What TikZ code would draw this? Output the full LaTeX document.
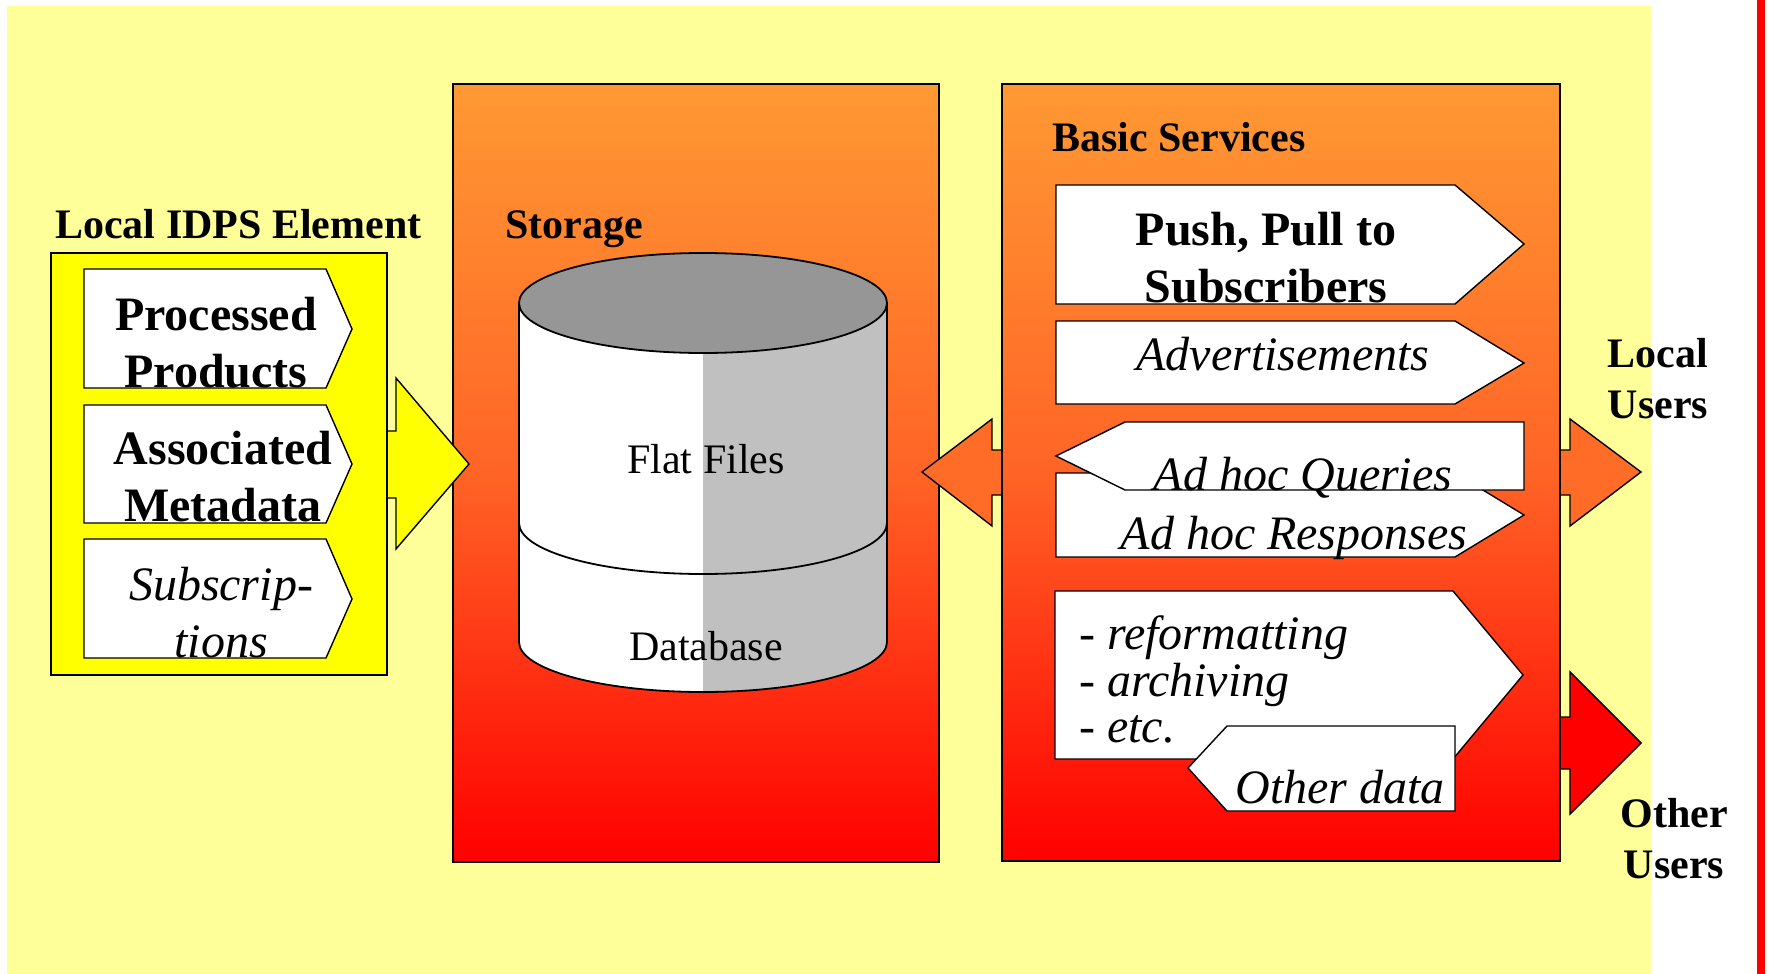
\documentclass[tikz,border=0pt]{standalone}
\usepackage{fontspec}
\setmainfont{Liberation Serif}
\definecolor{bgyel}{RGB}{255,255,153}
\definecolor{yel}{RGB}{255,255,0}
\definecolor{grtop}{RGB}{255,153,51}
\definecolor{grmid}{RGB}{255,100,38}
\definecolor{grbot}{RGB}{255,0,0}
\definecolor{arrorange}{RGB}{255,108,40}
\definecolor{cylgray}{RGB}{192,192,192}
\definecolor{cyltop}{RGB}{150,150,150}
\begin{document}
\begin{tikzpicture}[x=1pt,y=-1pt,
  outl/.style={draw=black, line width=1.4pt, line join=miter},
  panel/.style={outl, top color=grtop, bottom color=grbot, middle color=grmid},
  pent/.style={outl, fill=white},
  cyl/.style={draw=black, line width=1.8pt},
  hdr/.style={inner sep=0pt, font=\fontsize{42}{51}\selectfont\bfseries},
  bigb/.style={inner sep=0pt, font=\fontsize{48}{57}\selectfont\bfseries},
  bigi/.style={inner sep=0pt, font=\fontsize{48}{57}\selectfont\itshape},
  reg/.style={inner sep=0pt, font=\fontsize{42}{51}\selectfont}]
\useasboundingbox (0,0) rectangle (1769,974);
\fill[white] (0,0) rectangle (1769,974);
% background
\fill[bgyel] (7,6) rectangle (1651,974);
\fill[red] (1757,0) rectangle (1765,974);

% storage panel
\path[panel] (453,84) rectangle (939,862);
\node[hdr, anchor=base west] (storlbl) at (505,238) {Storage};

% cylinder
\begin{scope}
\clip (519,303) -- (519,642) arc[start angle=180,end angle=360,x radius=184pt,y radius=50pt] -- (887,303) -- cycle;
\fill[white] (510,250) rectangle (703,700);
\fill[cylgray] (703,250) rectangle (895,700);
\end{scope}
\draw[cyl] (519,303) -- (519,642) arc[start angle=180,end angle=360,x radius=184pt,y radius=50pt] -- (887,303);
\draw[cyl] (519,523) arc[start angle=180,end angle=360,x radius=184pt,y radius=51pt];
\draw[cyl, fill=cyltop] (703,303) ellipse [x radius=184pt, y radius=50pt];
\node[reg, anchor=base] (flat) at (706,473) {Flat Files};
\node[reg, anchor=base] (db) at (706,660) {Database};

% yellow block arrow and local element box
\path[outl, fill=yel] (370,431) -- (396,431) -- (396,378) -- (469,464) -- (396,549) -- (396,498) -- (370,498) -- cycle;
\path[outl, fill=yel] (51,253) rectangle (387,675);
\node[hdr, anchor=base west] (lidps) at (55,238) {Local IDPS Element};

\path[pent] (84,269) -- (326,269) -- (352,329) -- (326,388) -- (84,388) -- cycle;
\path[pent] (84,405) -- (326,405) -- (352,464) -- (326,523) -- (84,523) -- cycle;
\path[pent] (84,539) -- (326,539) -- (352,599) -- (326,658) -- (84,658) -- cycle;
\node[bigb, anchor=base] (proc) at (216,330) {\begin{tabular}[t]{@{}c@{}}Processed\\Products\end{tabular}};
\node[bigb, anchor=base] (assoc) at (223,464) {\begin{tabular}[t]{@{}c@{}}Associated\\Metadata\end{tabular}};
\node[bigi, anchor=base] (subs) at (221,600) {\begin{tabular}[t]{@{}c@{}}Subscrip-\\tions\end{tabular}};

% double arrow storage <-> local users
\path[outl, fill=arrorange] (922,472) -- (992,419) -- (992,450) -- (1570,450) -- (1570,419) -- (1641,472) -- (1570,526) -- (1570,495) -- (992,495) -- (992,526) -- cycle;
% other users arrow
\path[outl, fill=red] (1540,717) -- (1570,717) -- (1570,672) -- (1641,743) -- (1570,814) -- (1570,769) -- (1540,769) -- cycle;

% basic services panel
\path[panel] (1002,84) rectangle (1560,861);
\node[hdr, anchor=base west] (baslbl) at (1052,151) {Basic Services};

\path[pent] (1056,185) -- (1455,185) -- (1524,244) -- (1455,304) -- (1056,304) -- cycle;
\node[bigb, anchor=base] (push) at (1266,245) {\begin{tabular}[t]{@{}c@{}}Push, Pull to\\Subscribers\end{tabular}};

\path[pent] (1056,321) -- (1455,321) -- (1524,363) -- (1455,404) -- (1056,404) -- cycle;
\node[bigi, anchor=base] (adv) at (1283,370) {Advertisements};

\path[pent] (1056,473) -- (1455,473) -- (1524,515) -- (1455,557) -- (1056,557) -- cycle;
\node[bigi, anchor=base] (resp) at (1294,549) {Ad hoc Responses};

\path[pent] (1125,422) -- (1524,422) -- (1524,490) -- (1125,490) -- (1056,456) -- cycle;
\node[bigi, anchor=base] (query) at (1303,490) {Ad hoc Queries};

\path[pent] (1055,591) -- (1453,591) -- (1523,675) -- (1453,759) -- (1055,759) -- cycle;
\node[inner sep=0pt, font=\fontsize{48}{46.5}\selectfont\itshape, anchor=base west] (reform) at (1079,649)
  {\begin{tabular}[t]{@{}l@{}}- reformatting\\- archiving\\- etc.\end{tabular}};

\path[pent] (1227,726) -- (1455,726) -- (1455,811) -- (1227,811) -- (1188,768) -- cycle;
\node[bigi, anchor=base] (other) at (1340,803) {Other data};

% user labels
\node[hdr, anchor=base] (localu) at (1658,367) {\begin{tabular}[t]{@{}c@{}}Local\\Users\end{tabular}};
\node[hdr, anchor=base] (otheru) at (1674,827) {\begin{tabular}[t]{@{}c@{}}Other\\Users\end{tabular}};
\end{tikzpicture}
\end{document}
